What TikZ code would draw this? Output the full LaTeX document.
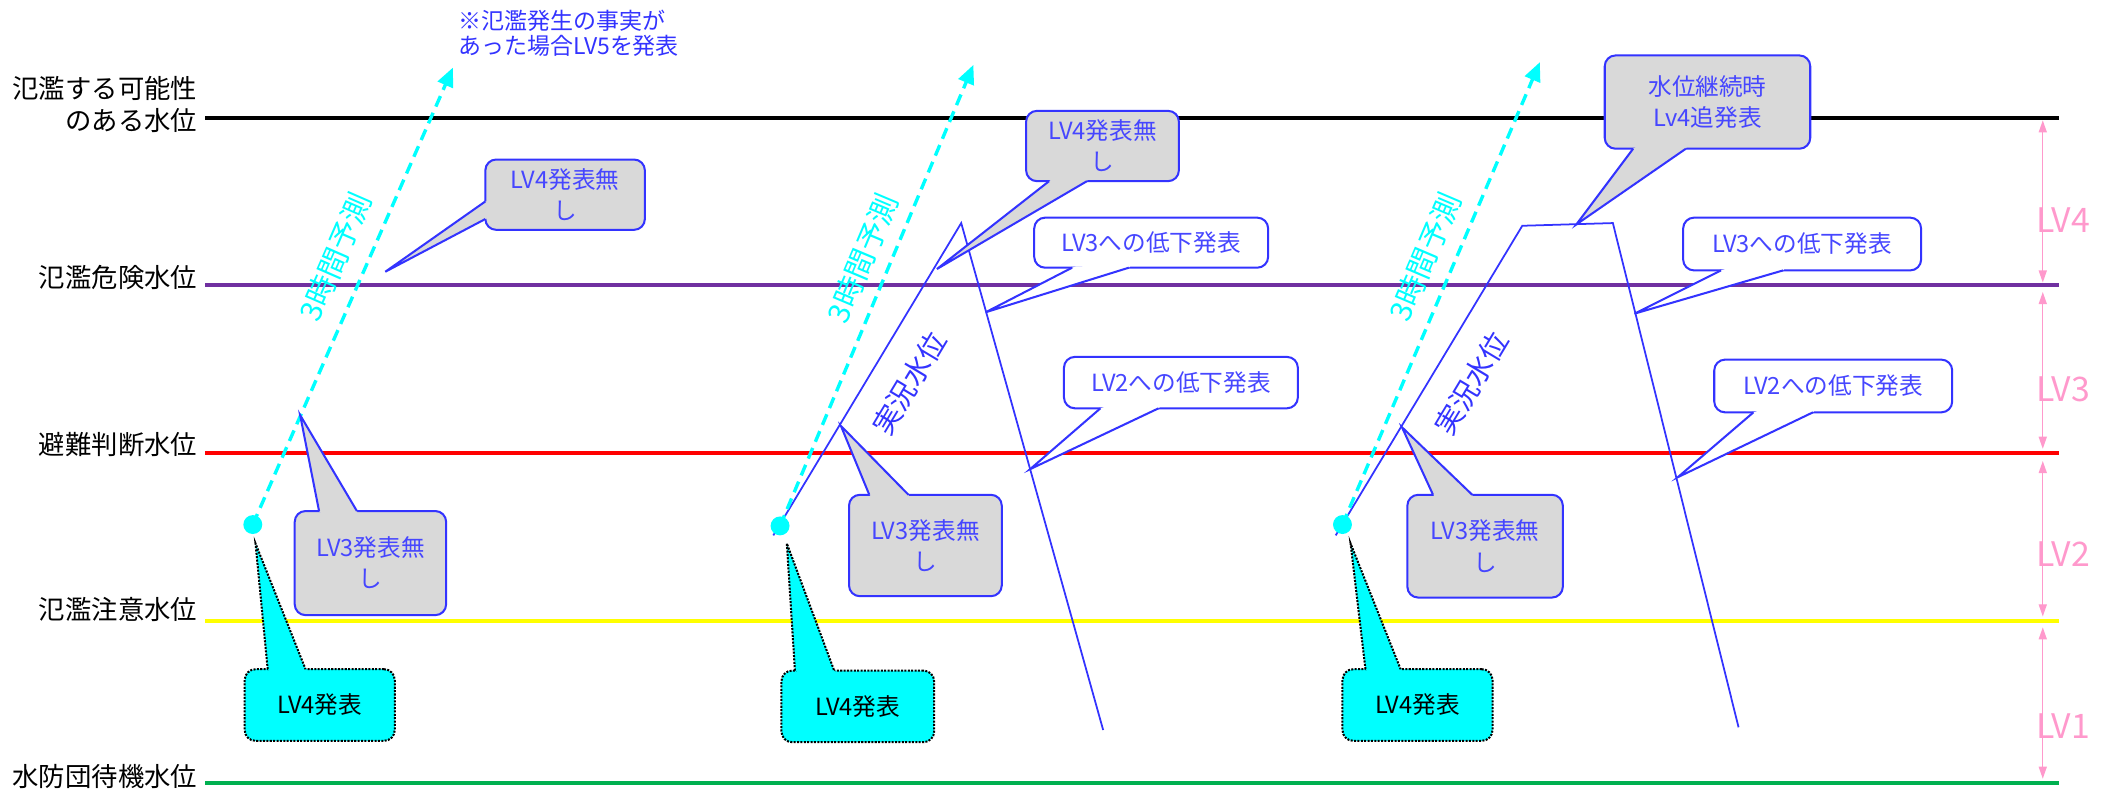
\documentclass[tikz,border=0pt]{standalone}
\usepackage{fontspec}
\setmainfont{Noto Sans CJK JP}
\usetikzlibrary{arrows.meta,calc}
\definecolor{cblue}{RGB}{51,51,255}
\definecolor{ctext}{RGB}{70,70,255}
\definecolor{cgray}{RGB}{217,217,217}
\definecolor{ccyan}{RGB}{0,255,255}
\definecolor{cpink}{RGB}{255,153,204}
\definecolor{cpurple}{RGB}{112,48,160}
\definecolor{cgreen}{RGB}{0,176,80}
\definecolor{cyellow}{RGB}{255,255,0}
\tikzset{
  lvl/.style={line width=3pt},
  lab/.style={anchor=east, font=\fontsize{19.5}{23.5}\selectfont, align=right, inner sep=0pt},
  lvarr/.style={draw=cpink, line width=1pt, {Triangle[length=9pt,width=6pt]}-{Triangle[length=9pt,width=6pt]}},
  lvlab/.style={anchor=west, text=cpink, font=\fontsize{25}{28}\selectfont, inner sep=0pt},
  pred/.style={draw=ccyan, line width=2.5pt, dash pattern=on 8.5pt off 5pt, -{Triangle[length=14pt,width=12pt]}},
  predlab/.style={text=ccyan, font=\fontsize{22}{24}\selectfont, inner sep=0pt},
  real/.style={draw=cblue, line width=1.3pt},
  reallab/.style={text=cblue, font=\fontsize{21}{24}\selectfont, inner sep=0pt},
  dot/.style={circle, fill=ccyan, minimum size=14pt, inner sep=0pt},
  cbase/.style={rounded corners=8pt, line width=1.5pt, align=center, inner sep=0pt, font=\fontsize{17.5}{23}\selectfont},
  gcall/.style={cbase, draw=cblue, fill=cgray, text=ctext},
  wcall/.style={cbase, draw=cblue, fill=white, text=ctext},
  ccall/.style={cbase, draw=black, densely dotted, fill=ccyan, text=black},
  gfill/.style={fill=cgray}, gedge/.style={draw=cblue, line width=1.5pt},
  wfill/.style={fill=white}, wedge/.style={draw=cblue, line width=1.5pt},
  cfill/.style={fill=ccyan}, cedge/.style={draw=black, line width=1.5pt, densely dotted},
  note/.style={anchor=north west, text=cblue, font=\fontsize{17}{18.5}\selectfont, align=left, inner sep=0pt}
}
\newcommand\callptr[5]{%
  \fill[#5fill] (#2) -- (#3) -- (#4) -- ($(#4)!3pt!(#1.center)$) -- ($(#2)!3pt!(#1.center)$) -- cycle;
  \draw[#5edge] (#2) -- (#3) -- (#4);%
}
\begin{document}
\begin{tikzpicture}[x=1pt,y=-1pt]
\useasboundingbox (0,0) rectangle (1560,583.6);
% level lines
\coordinate (l1a) at (152,87);  \coordinate (l1b) at (1523,87);
\coordinate (l2a) at (152,211); \coordinate (l2b) at (1523,211);
\coordinate (l3a) at (152,335); \coordinate (l3b) at (1523,335);
\coordinate (l4a) at (152,459); \coordinate (l4b) at (1523,459);
\coordinate (l5a) at (152,579); \coordinate (l5b) at (1523,579);
\draw[lvl, black] (l1a) -- (l1b);
\draw[lvl, cpurple] (l2a) -- (l2b);
\draw[lvl, red] (l3a) -- (l3b);
\draw[lvl, cyellow] (l4a) -- (l4b);
\draw[lvl, cgreen] (l5a) -- (l5b);
% left labels
\node[lab] (t1) at (146,77.5) {氾濫する可能性\\のある水位};
\node[lab] (t2) at (146,205) {氾濫危険水位};
\node[lab] (t3) at (146,329) {避難判断水位};
\node[lab] (t4) at (146,451) {氾濫注意水位};
\node[lab] (t5) at (146,574) {水防団待機水位};
% right LV arrows
\coordinate (v1a) at (1511,89);  \coordinate (v1b) at (1511,209);
\coordinate (v2a) at (1511,216); \coordinate (v2b) at (1511,332);
\coordinate (v3a) at (1511,341); \coordinate (v3b) at (1511,456);
\coordinate (v4a) at (1511,464); \coordinate (v4b) at (1511,576);
\draw[lvarr] (v1a) -- (v1b);
\draw[lvarr] (v2a) -- (v2b);
\draw[lvarr] (v3a) -- (v3b);
\draw[lvarr] (v4a) -- (v4b);
\node[lvlab] (k4) at (1506,163) {LV4};
\node[lvlab] (k3) at (1506,288) {LV3};
\node[lvlab] (k2) at (1506,410) {LV2};
\node[lvlab] (k1) at (1506,537) {LV1};
% top note
\node[note] (nt) at (339,7) {※氾濫発生の事実が\\あった場合LV5を発表};
% real water level lines
\coordinate (s2) at (572,396); \coordinate (p2) at (711,165); \coordinate (e2) at (816,540);
\draw[real] (s2) -- (p2) -- (e2);
\node[reallab, rotate=59] (r2) at (672.5,283.5) {実況水位};
\coordinate (s3) at (988,396); \coordinate (p3a) at (1126,167); \coordinate (p3b) at (1193,165); \coordinate (e3) at (1286,538);
\draw[real] (s3) -- (p3a) -- (p3b) -- (e3);
\node[reallab, rotate=59] (r3) at (1088.5,283.5) {実況水位};
% prediction arrows
\coordinate (d1) at (187,388); \coordinate (a1) at (335,50);
\coordinate (d2) at (577,389); \coordinate (a2) at (720,48);
\coordinate (d3) at (993,388); \coordinate (a3) at (1139,46);
\draw[pred] (d1) -- (a1);
\draw[pred] (d2) -- (a2);
\draw[pred] (d3) -- (a3);
\node[predlab, rotate=66.4] (q1) at (248,190) {3時間予測};
\node[predlab, rotate=67.2] (q2) at (638,191) {3時間予測};
\node[predlab, rotate=66.9] (q3) at (1054,190) {3時間予測};
\node[dot] (o1) at (d1) {};
\node[dot] (o2) at (d2) {};
\node[dot] (o3) at (d3) {};
% group 1 callouts
\node[gcall, minimum width=118pt, minimum height=52pt] (c1a) at (418,144) {LV4発表無\\し};
\callptr{c1a}{359,149}{285,201}{359,162}{g}
\node[gcall, minimum width=112pt, minimum height=77pt] (c1b) at (274,416.5) {LV3発表無\\し};
\callptr{c1b}{236,378}{222,307}{264,378}{g}
\node[ccall, minimum width=111pt, minimum height=53pt] (c1c) at (236.5,521.5) {LV4発表};
\callptr{c1c}{198,495}{189,402}{226,495}{c}
% group 2 callouts
\node[gcall, minimum width=113pt, minimum height=52pt] (c2a) at (815.5,108) {LV4発表無\\し};
\callptr{c2a}{776,134}{693,199}{804,134}{g}
\node[wcall, minimum width=173pt, minimum height=37pt] (c2b) at (851.5,179.5) {LV3への低下発表};
\callptr{c2b}{793,198}{729,231}{835,198}{w}
\node[wcall, minimum width=173pt, minimum height=38pt] (c2c) at (873.5,283) {LV2への低下発表};
\callptr{c2c}{814,302}{762,347}{857,302}{w}
\node[gcall, minimum width=113pt, minimum height=75pt] (c2d) at (684.5,403.5) {LV3発表無\\し};
\callptr{c2d}{643,366}{622,315}{672,366}{g}
\node[ccall, minimum width=113pt, minimum height=53pt] (c2e) at (634.5,522.5) {LV4発表};
\callptr{c2e}{588,496}{582,402}{617,496}{c}
% group 3 callouts
\node[gcall, minimum width=152pt, minimum height=69pt] (c3a) at (1263,75.5) {水位継続時\\Lv4追発表};
\callptr{c3a}{1208,110}{1166,166}{1247,110}{g}
\node[wcall, minimum width=176pt, minimum height=39pt] (c3b) at (1333,180.5) {LV3への低下発表};
\callptr{c3b}{1273,200}{1209,232}{1319,200}{w}
\node[wcall, minimum width=176pt, minimum height=39pt] (c3c) at (1356,285.5) {LV2への低下発表};
\callptr{c3c}{1297,305}{1241,353}{1341,305}{w}
\node[gcall, minimum width=115pt, minimum height=76pt] (c3d) at (1098.5,404) {LV3発表無\\し};
\callptr{c3d}{1060,366}{1037,316}{1089,366}{g}
\node[ccall, minimum width=111pt, minimum height=53pt] (c3e) at (1048.5,521.5) {LV4発表};
\callptr{c3e}{1010,495}{999,402}{1036,495}{c}
\end{tikzpicture}
\end{document}
